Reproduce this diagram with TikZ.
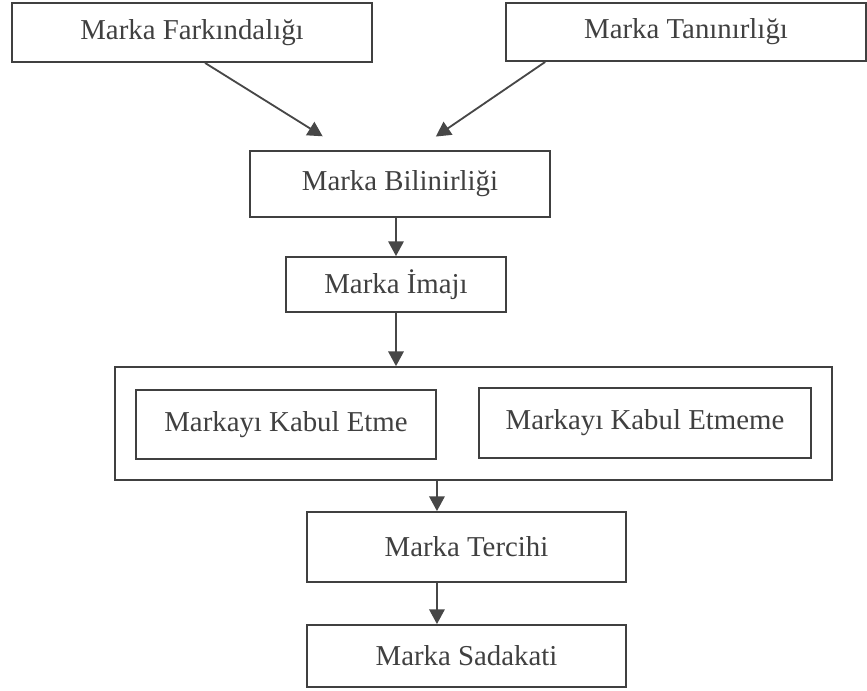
\documentclass[tikz,border=0pt]{standalone}
\usepackage{fontspec}
\setmainfont{Liberation Serif}
\usetikzlibrary{arrows.meta,calc,positioning,fit}

\begin{document}
\begin{tikzpicture}[x=0.025cm, y=-0.025cm,
  font=\fontsize{20.5}{24}\selectfont, text=black!75,
  blok/.style={draw=black!75, line width=1.3pt, align=center, inner sep=0pt},
  arr/.style={draw=black!72, line width=1.3pt, -{Triangle[length=10.5pt, width=11pt]}}]
  \useasboundingbox (0,0) rectangle (867,690);
  % ust kutular
  \node[blok, minimum width=9cm, minimum height=1.475cm] (fark) at (192,32.5) {Marka Farkındalığı};
  \node[blok, minimum width=9cm, minimum height=1.45cm] (tani) at (686,32) {Marka Tanınırlığı};
  \node[blok, minimum width=7.5cm, minimum height=1.65cm] (bilin) at (400,184) {Marka Bilinirliği};
  \node[blok, minimum width=5.5cm, minimum height=1.375cm] (imaj) at (396,284.5) {Marka İmajı};
  % kabul / etmeme
  \node[blok, minimum width=7.5cm, minimum height=1.725cm] (kabul) at (286,424.5) {Markayı Kabul Etme};
  \node[blok, minimum width=8.3cm, minimum height=1.75cm] (etmeme) at (645,423) {Markayı Kabul Etmeme};
  \node[blok, fit=(kabul)(etmeme), inner sep=0.5cm] (dis) {};
  % alt kutular
  \node[blok, minimum width=7.975cm, minimum height=1.75cm] (tercih) at (466.5,547) {Marka Tercihi};
  \node[blok, minimum width=7.975cm, minimum height=1.55cm] (sadakat) at (466.5,656) {Marka Sadakati};
  % oklar
  \draw[arr, shorten >=0.65cm] ($(fark.south west)!0.536!(fark.south east)$) -- ($(bilin.north west)!0.317!(bilin.north east)$);
  \draw[arr, shorten >=0.6cm] ($(tani.south west)!0.111!(tani.south east)$) -- ($(bilin.north west)!0.553!(bilin.north east)$);
  \draw[arr] (imaj.north |- bilin.south) -- (imaj.north);
  \draw[arr] (imaj.south) -- (imaj.south |- dis.north);
  \draw[arr] (dis.south -| kabul.east) -- (tercih.north -| kabul.east);
  \draw[arr] (tercih.south -| kabul.east) -- (sadakat.north -| kabul.east);
\end{tikzpicture}
\end{document}
